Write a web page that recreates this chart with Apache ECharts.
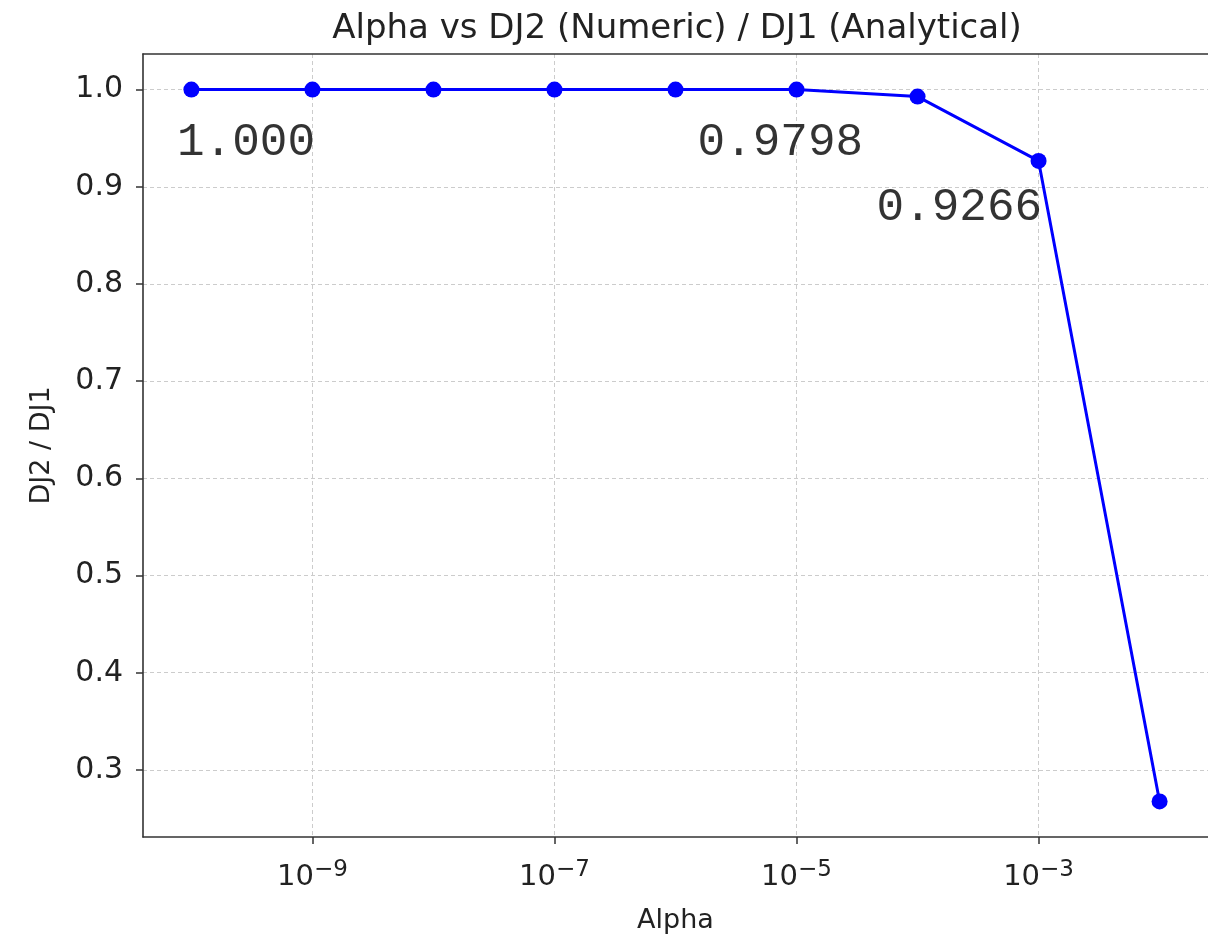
<!DOCTYPE html>
<html>
<head>
<meta charset="utf-8">
<script src="https://cdn.jsdelivr.net/npm/echarts@6/dist/echarts.min.js"></script>
<style>
  html, body { margin: 0; padding: 0; background: #ffffff; }
  #chart { width: 1208px; height: 940px; }
</style>
</head>
<body>
<div id="chart"></div>
<script>
// Regularisation strength and the numeric / analytical ratio at each value
const alphas = [1e-10, 1e-9, 1e-8, 1e-7, 1e-6, 1e-5, 1e-4, 1e-3, 1e-2];
const ratios = [1.0, 1.0, 1.0, 1.0, 1.0, 1.0, 0.9928, 0.9266, 0.2676];

// Tick positions (x as powers of ten)
const xTickExponents = [-9, -7, -5, -3];
const yTicks = [0.3, 0.4, 0.5, 0.6, 0.7, 0.8, 0.9, 1.0];

// Text notes placed in data space (right edge at the anchor)
const noteTexts = ['1.000', '0.9798', '0.9266'];
const noteAlphas = [1.05e-9, 3.55e-5, 1.07e-3];
const noteRatios = [0.945, 0.945, 0.878];

const logX = alphas.map(a => Math.log10(a));
const xLo = Math.min(...logX), xHi = Math.max(...logX);
const yLo = Math.min(...ratios), yHi = Math.max(...ratios);
const xPad = 0.05 * (xHi - xLo), yPad = 0.05 * (yHi - yLo);

const seriesData = logX.map((x, i) => [x, ratios[i]]);
const noteData = noteTexts.map((t, i) => [Math.log10(noteAlphas[i]), noteRatios[i], t]);

const chart = echarts.init(document.getElementById('chart'), null, { renderer: 'canvas' });
const ink = '#222222';
const spine = { show: true, onZero: false, lineStyle: { color: '#333333', width: 1.6 } };
const gridDash = { show: true, lineStyle: { color: '#cccccc', width: 1, type: [4, 3] } };

chart.setOption({
  animation: false,
  backgroundColor: '#ffffff',
  title: {
    text: 'Alpha vs DJ2 (Numeric) / DJ1 (Analytical)',
    left: 672, top: 7, textAlign: 'center',
    textStyle: { fontFamily: 'DejaVu Sans', fontSize: 34, fontWeight: 'normal', color: ink }
  },
  grid: { left: 143, top: 54, width: 1066, height: 783, show: false },
  xAxis: [
    {
      type: 'value', min: xLo - xPad, max: xHi + xPad, position: 'bottom',
      name: 'Alpha', nameLocation: 'middle', nameGap: 70,
      nameTextStyle: { fontFamily: 'DejaVu Sans', fontSize: 27, color: ink },
      axisLine: spine,
      axisTick: { show: true, length: 7, lineStyle: { color: '#333333', width: 1.5 }, customValues: xTickExponents },
      axisLabel: {
        customValues: xTickExponents, margin: 22,
        formatter: v => '{b|10}{s|\u2212' + Math.abs(Math.round(v)) + '}',
        rich: {
          b: { fontFamily: 'DejaVu Sans', fontSize: 29, color: ink },
          s: { fontFamily: 'DejaVu Sans', fontSize: 23, color: ink, padding: [0, 0, 14, 0] }
        }
      },
      splitLine: gridDash
    },
    {
      type: 'value', min: xLo - xPad, max: xHi + xPad, position: 'top',
      axisLine: spine, axisTick: { show: false }, axisLabel: { show: false }, splitLine: { show: false }
    }
  ],
  yAxis: {
    type: 'value', min: yLo - yPad, max: yHi + yPad,
    name: 'DJ2 / DJ1', nameLocation: 'middle', nameGap: 88,
    nameTextStyle: { fontFamily: 'DejaVu Sans', fontSize: 27, color: ink },
    axisLine: spine,
    axisTick: { show: true, length: 7, lineStyle: { color: '#333333', width: 1.5 }, customValues: yTicks },
    axisLabel: {
      customValues: yTicks, margin: 20,
      formatter: v => v.toFixed(1),
      fontFamily: 'DejaVu Sans', fontSize: 30, color: ink
    },
    splitLine: gridDash
  },
  series: [
    {
      name: 'DJ2 / DJ1', type: 'line', data: seriesData,
      symbol: 'circle', symbolSize: 16,
      lineStyle: { color: '#0000ff', width: 3 },
      itemStyle: { color: '#0000ff' },
      z: 3
    },
    {
      name: 'notes', type: 'scatter', data: noteData, symbolSize: 0,
      silent: true,
      label: {
        show: true, position: 'left', distance: 0,
        formatter: p => p.data[2],
        fontFamily: 'Liberation Mono', fontSize: 46, color: '#000000'
      },
      z: 4
    }
  ]
});
</script>
</body>
</html>
